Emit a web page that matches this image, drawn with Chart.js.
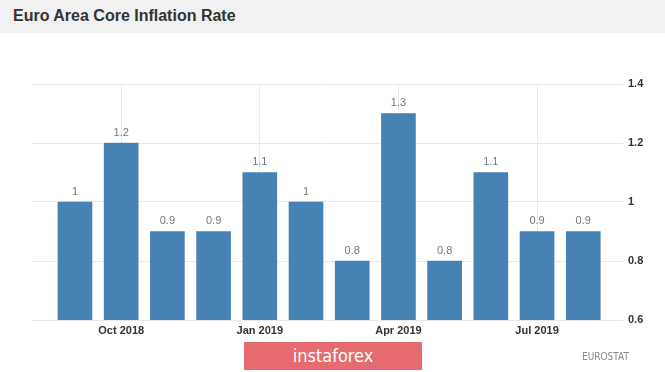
<!DOCTYPE html>
<html>
<head>
<meta charset="utf-8">
<script src="https://cdn.jsdelivr.net/npm/chart.js@4.4.1/dist/chart.umd.min.js"></script>
<style>
  html, body { margin: 0; padding: 0; background: #fff; }
  #wrap { position: relative; width: 665px; height: 372px; overflow: hidden; }
  #header {
    position: absolute; left: 0; top: 0; width: 665px; height: 33px;
    background: #f1f1f1;
  }
  #header h1 {
    margin: 0; position: absolute; left: 13px; top: 7px;
    font: bold 16px "Liberation Sans", Arial, sans-serif; color: #333;
  }
  #chart { position: absolute; left: 0; top: 0; }
  #logo {
    position: absolute; left: 244px; top: 342px; width: 178px; height: 28px;
    background: #e56b6e; color: #fff; text-align: center;
    font: 18px "DejaVu Sans Condensed", "DejaVu Sans", sans-serif; line-height: 28px;
  }
  #source {
    position: absolute; left: 582px; top: 351px;
    font: 10px "DejaVu Sans Condensed", "DejaVu Sans", sans-serif; color: #888;
  }
</style>
</head>
<body>
<div id="wrap">
  <canvas id="chart" width="665" height="372"></canvas>
  <div id="header"><h1>Euro Area Core Inflation Rate</h1></div>
  <div id="logo">instaforex</div>
  <div id="source">EUROSTAT</div>
</div>
<script>
// data: Sep 2018 .. Aug 2019
const months = ['Sep 2018', 'Oct 2018', 'Nov 2018', 'Dec 2018', 'Jan 2019', 'Feb 2019',
  'Mar 2019', 'Apr 2019', 'May 2019', 'Jun 2019', 'Jul 2019', 'Aug 2019'];
const coreRate = [1, 1.2, 0.9, 0.9, 1.1, 1, 0.8, 1.3, 0.8, 1.1, 0.9, 0.9];
const xTickIdx = [1, 4, 7, 10];
const yTicks = [0.6, 0.8, 1, 1.2, 1.4];

// value labels above bars
const barLabels = {
  id: 'barLabels',
  afterDatasetsDraw(chart) {
    const ctx = chart.ctx;
    const meta = chart.getDatasetMeta(0);
    ctx.save();
    ctx.font = '11px "Liberation Sans", Arial, sans-serif';
    ctx.fillStyle = '#777';
    ctx.textAlign = 'center';
    ctx.textBaseline = 'bottom';
    meta.data.forEach((bar, i) => {
      ctx.fillText(String(coreRate[i]), bar.x, bar.y - 5);
    });
    ctx.restore();
  }
};

new Chart(document.getElementById('chart'), {
  type: 'bar',
  data: {
    datasets: [{
      label: 'Core Inflation Rate',
      data: coreRate.map((v, i) => ({ x: i, y: v })),
      backgroundColor: '#4682b4',
      borderWidth: 0,
      barThickness: 34,
    }],
  },
  plugins: [barLabels],
  options: {
    responsive: false,
    animation: false,
    layout: { padding: { top: 84, left: 32, right: 0, bottom: 0 } },
    plugins: { legend: { display: false }, tooltip: { enabled: false } },
    scales: {
      x: {
        type: 'linear',
        min: -0.93,
        max: 11.86,
        offset: false,
        afterBuildTicks: (scale) => { scale.ticks = xTickIdx.map(v => ({ value: v })); },
        afterFit: (scale) => { scale.height = 52; },
        grid: { color: '#e9e9e9', drawTicks: false, offset: false },
        border: { display: false },
        ticks: {
          padding: 4,
          color: '#333',
          font: { family: '"Liberation Sans", Arial, sans-serif', size: 11, weight: 'bold' },
          callback: (v) => months[v],
        },
      },
      y: {
        position: 'right',
        min: 0.6,
        max: 1.4,
        afterBuildTicks: (scale) => { scale.ticks = yTicks.map(v => ({ value: v })); },
        afterFit: (scale) => { scale.width = 42; },
        grid: { color: '#e9e9e9', drawTicks: false },
        border: { display: false },
        ticks: {
          padding: 5,
          color: '#333',
          font: { family: '"Liberation Sans", Arial, sans-serif', size: 11, weight: 'bold' },
          callback: (v) => String(Number(v.toFixed(1))),
        },
      },
    },
  },
});
</script>
</body>
</html>
